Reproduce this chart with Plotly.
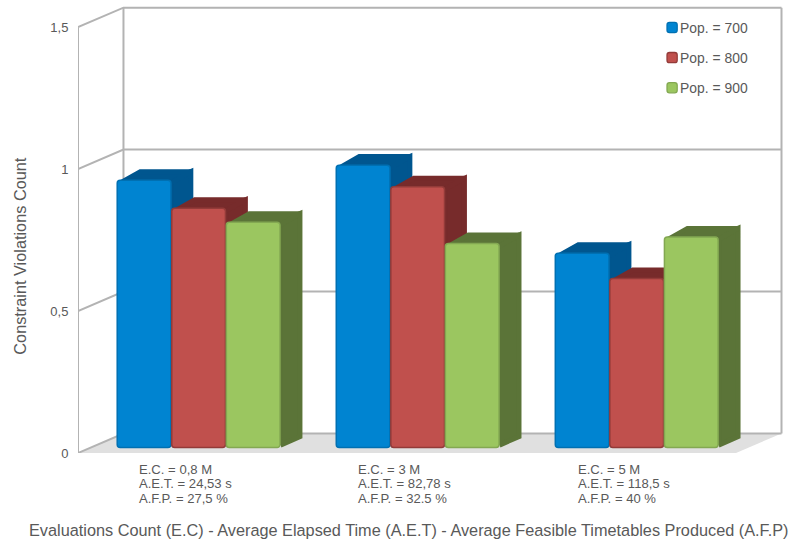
import plotly.graph_objects as go

# ---- data ----
series_names = ["Pop. = 700", "Pop. = 800", "Pop. = 900"]
pop_700 = [0.942, 0.995, 0.685]
pop_800 = [0.843, 0.919, 0.596]
pop_900 = [0.794, 0.719, 0.742]
ec_labels = ["E.C. = 0,8 M", "E.C. = 3 M", "E.C. = 5 M"]
aet_labels = ["A.E.T. = 24,53 s", "A.E.T. = 82,78 s", "A.E.T. = 118,5 s"]
afp_labels = ["A.F.P. = 27,5 %", "A.F.P. = 32.5 %", "A.F.P. = 40 %"]
y_ticks = [0, 0.5, 1, 1.5]
y_tick_labels = ["0", "0,5", "1", "1,5"]
x_title = "Evaluations Count (E.C) - Average Elapsed Time (A.E.T) - Average Feasible Timetables Produced (A.F.P)"
y_title = "Constraint Violations Count"

# ---- styling ----
FONT = "Liberation Sans"
TXT = "#595959"
WALL = "#b3b3b3"
front = ["#0084d1", "#c0504d", "#9bc660"]
edge = ["#0070b2", "#933b39", "#83a852"]
side = ["#00568f", "#772b2b", "#5b7438"]

W, H = 789, 542
L, R, T, B = 77.5, 783.0, 4.0, 452.7   # plot box in pixels
PX_X = 219.2                           # px per group
PX_Y = 283.7                           # px per unit of value
X0_PX = 198.2                          # px of the first group centre

xr = [(L - X0_PX) / PX_X, (R - X0_PX) / PX_X]
yr = [0, (B - T) / PX_Y]

wall_dx, wall_dy = 45.5 / PX_X, 19.5 / PX_Y   # axis-box depth
STROKE = 5                                    # thick round-join stroke rounds the corners
bar_dx, bar_dy = 19.5 / PX_X, 8.5 / PX_Y      # bar depth (inside the stroke)
inset_x, inset_y = (STROKE / 2) / PX_X, (STROKE / 2) / PX_Y
bar_base = 5.4 / PX_Y
bar_w = 54.6 / PX_X
offsets = [-bar_w, 0, bar_w]

fig = go.Figure()

def poly(xs, ys, color, line=None, width=0, axes=("x", "y")):
    fig.add_trace(go.Scatter(
        x=xs, y=ys, mode="lines", fill="toself" if color else "none",
        fillcolor=color, line=dict(color=line or "rgba(0,0,0,0)", width=width),
        hoverinfo="skip", showlegend=False, xaxis=axes[0], yaxis=axes[1]))

x_left, x_right = xr[0], xr[0] + (781.5 - 45.5 - L) / PX_X
# floor
poly([x_left, x_right, x_right + wall_dx, x_left + wall_dx, x_left],
     [0, 0, wall_dy, wall_dy, 0], "#e0e0e0")
# value grid: back wall and left wall
for v in y_ticks:
    poly([x_left, x_left + wall_dx, x_right + wall_dx],
         [v, v + wall_dy, v + wall_dy], None, WALL, 2)
# wall verticals
poly([x_left, x_left], [0, y_ticks[-1]], None, WALL, 2)
poly([x_left + wall_dx] * 2, [wall_dy, y_ticks[-1] + wall_dy], None, WALL, 2)
poly([x_right + wall_dx] * 2, [wall_dy, y_ticks[-1] + wall_dy], None, WALL, 2)

# bar depth faces, left to right
values = [pop_700, pop_800, pop_900]
for g in range(3):
    for s in range(3):
        v = values[s][g]
        a = g + offsets[s] - bar_w / 2
        b = a + bar_w
        top = bar_base + v
        low = bar_base + inset_y
        poly([b, b + bar_dx, b + bar_dx, b, b],
             [low, low + bar_dy, top + bar_dy, top, low],
             side[s], side[s], STROKE)
        a_in = a + inset_x * 1.6
        poly([a_in, a_in + bar_dx, b + bar_dx, b, a_in],
             [top - inset_y, top + bar_dy, top + bar_dy, top - inset_y, top - inset_y],
             side[s], side[s], STROKE)

# front faces on the overlay axes so they cover neighbours' depth faces
for s in range(3):
    fig.add_trace(go.Bar(
        x=[g + offsets[s] for g in range(3)], y=values[s], base=bar_base,
        width=bar_w - 0.004, name=series_names[s], legendgroup=series_names[s],
        marker=dict(color=front[s], line=dict(color=edge[s], width=1.5), cornerradius=3),
        xaxis="x2", yaxis="y2"))

# group labels
annos = []
for g in range(3):
    for i, lab in enumerate((ec_labels[g], aet_labels[g], afp_labels[g])):
        annos.append(dict(
            text=lab, x=g, xref="x", y=0, yref="y", xanchor="left", yanchor="middle",
            xshift=137 - X0_PX, yshift=452.7 - (469 + 14.5 * i), showarrow=False,
            font=dict(family=FONT, size=13.1, color=TXT)))

# axis titles are off-centre relative to the plot box in the reference
annos.append(dict(text=x_title, xref="paper", yref="paper", x=(409 - L) / (R - L), y=0,
                  yshift=452.7 - 530, xanchor="center", yanchor="middle", showarrow=False,
                  font=dict(family=FONT, size=16.3, color=TXT)))
annos.append(dict(text=y_title, xref="paper", yref="paper", x=0, y=(B - 256) / (B - T),
                  xshift=20 - L, xanchor="center", yanchor="middle", textangle=-90,
                  showarrow=False, font=dict(family=FONT, size=16.3, color=TXT)))

fig.update_layout(
    width=W, height=H, margin=dict(l=L, r=W - R, t=T, b=H - B, pad=0),
    paper_bgcolor="white", plot_bgcolor="white", barmode="overlay",
    font=dict(family=FONT, color=TXT), annotations=annos,
    xaxis=dict(range=xr, showgrid=False, zeroline=False, showline=False,
               showticklabels=False, ticks=""),
    yaxis=dict(range=yr, showgrid=False, zeroline=False, showline=False,
               tickvals=y_ticks, ticktext=y_tick_labels, ticks="outside", ticklen=6,
               tickcolor="rgba(0,0,0,0)", tickfont=dict(size=13, color=TXT)),
    xaxis2=dict(range=xr, overlaying="x", visible=False),
    yaxis2=dict(range=yr, overlaying="y", visible=False),
    legend=dict(x=(640 - L) / (R - L), y=1 - (12 - T) / (B - T), xanchor="left", yanchor="top",
                bgcolor="rgba(0,0,0,0)", font=dict(size=13.9, color=TXT),
                tracegroupgap=9, itemclick=False, itemdoubleclick=False),
)

fig.write_html("out.html", config=dict(displayModeBar=False), post_script=(
    "document.body.style.margin='0';"
    "document.querySelectorAll('.legend .legendsymbols')"
    ".forEach(function(e){e.setAttribute('transform','translate(15,0) scale(0.85)');});"))
